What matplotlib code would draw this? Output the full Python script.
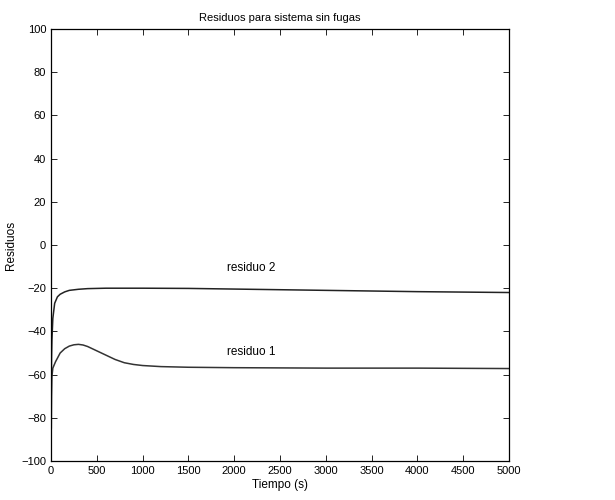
import numpy as np
import matplotlib.pyplot as plt

plt.rcParams['font.family'] = ['Liberation Sans', 'DejaVu Sans']

t1 = [0, 1, 3, 6, 10, 20, 50, 100, 150, 200, 250, 300, 350, 400, 500,
      600, 700, 800, 900, 1000, 1200, 1500, 2000, 2500, 3000, 4000, 5000]
residuo1 = [-5, -60, -85, -70, -61, -57, -54, -50, -48, -46.8, -46.2, -46, -46.3,
            -47, -49, -51, -53, -54.5, -55.3, -55.8, -56.3, -56.6, -56.8, -56.9,
            -57, -57, -57.2]

t2 = [0, 1, 3, 6, 10, 20, 40, 70, 100, 150, 200, 300, 400, 600, 1000, 1500,
      2000, 2500, 3000, 3500, 4000, 4500, 5000]
residuo2 = [25, -20, -62, -52, -44, -34, -27, -24, -22.8, -21.7, -21, -20.5, -20.2,
            -20, -20, -20.1, -20.4, -20.7, -21, -21.3, -21.6, -21.8, -22]

xticks = np.arange(0, 5001, 500)
yticks = np.arange(-100, 101, 20)

fig = plt.figure(figsize=(6.15, 5.0), dpi=100)
ax = fig.add_axes([51 / 615, 1 - 461 / 500, 458 / 615, 432 / 500])
ax.plot(t2, residuo2, color='#222222', lw=1.1)
ax.plot(t1, residuo1, color='#333333', lw=1.1)

ax.text(1920, -10.5, 'residuo 2', fontsize=8.5, va='center')
ax.text(1920, -49.5, 'residuo 1', fontsize=8.5, va='center')

ax.set_xlim(0, 5000)
ax.set_ylim(-100, 100)
ax.set_xticks(xticks)
ax.set_yticks(yticks)
ax.tick_params(direction='in', top=True, right=True, labelsize=8, length=4, width=0.6)
for s in ax.spines.values():
    s.set_linewidth(0.9)
ax.set_title('Residuos para sistema sin fugas', fontsize=8, pad=6)
ax.set_xlabel('Tiempo (s)', fontsize=8.5, labelpad=2)
ax.set_ylabel('Residuos', fontsize=8.5, labelpad=3)

fig.savefig('out.png', dpi=100)
